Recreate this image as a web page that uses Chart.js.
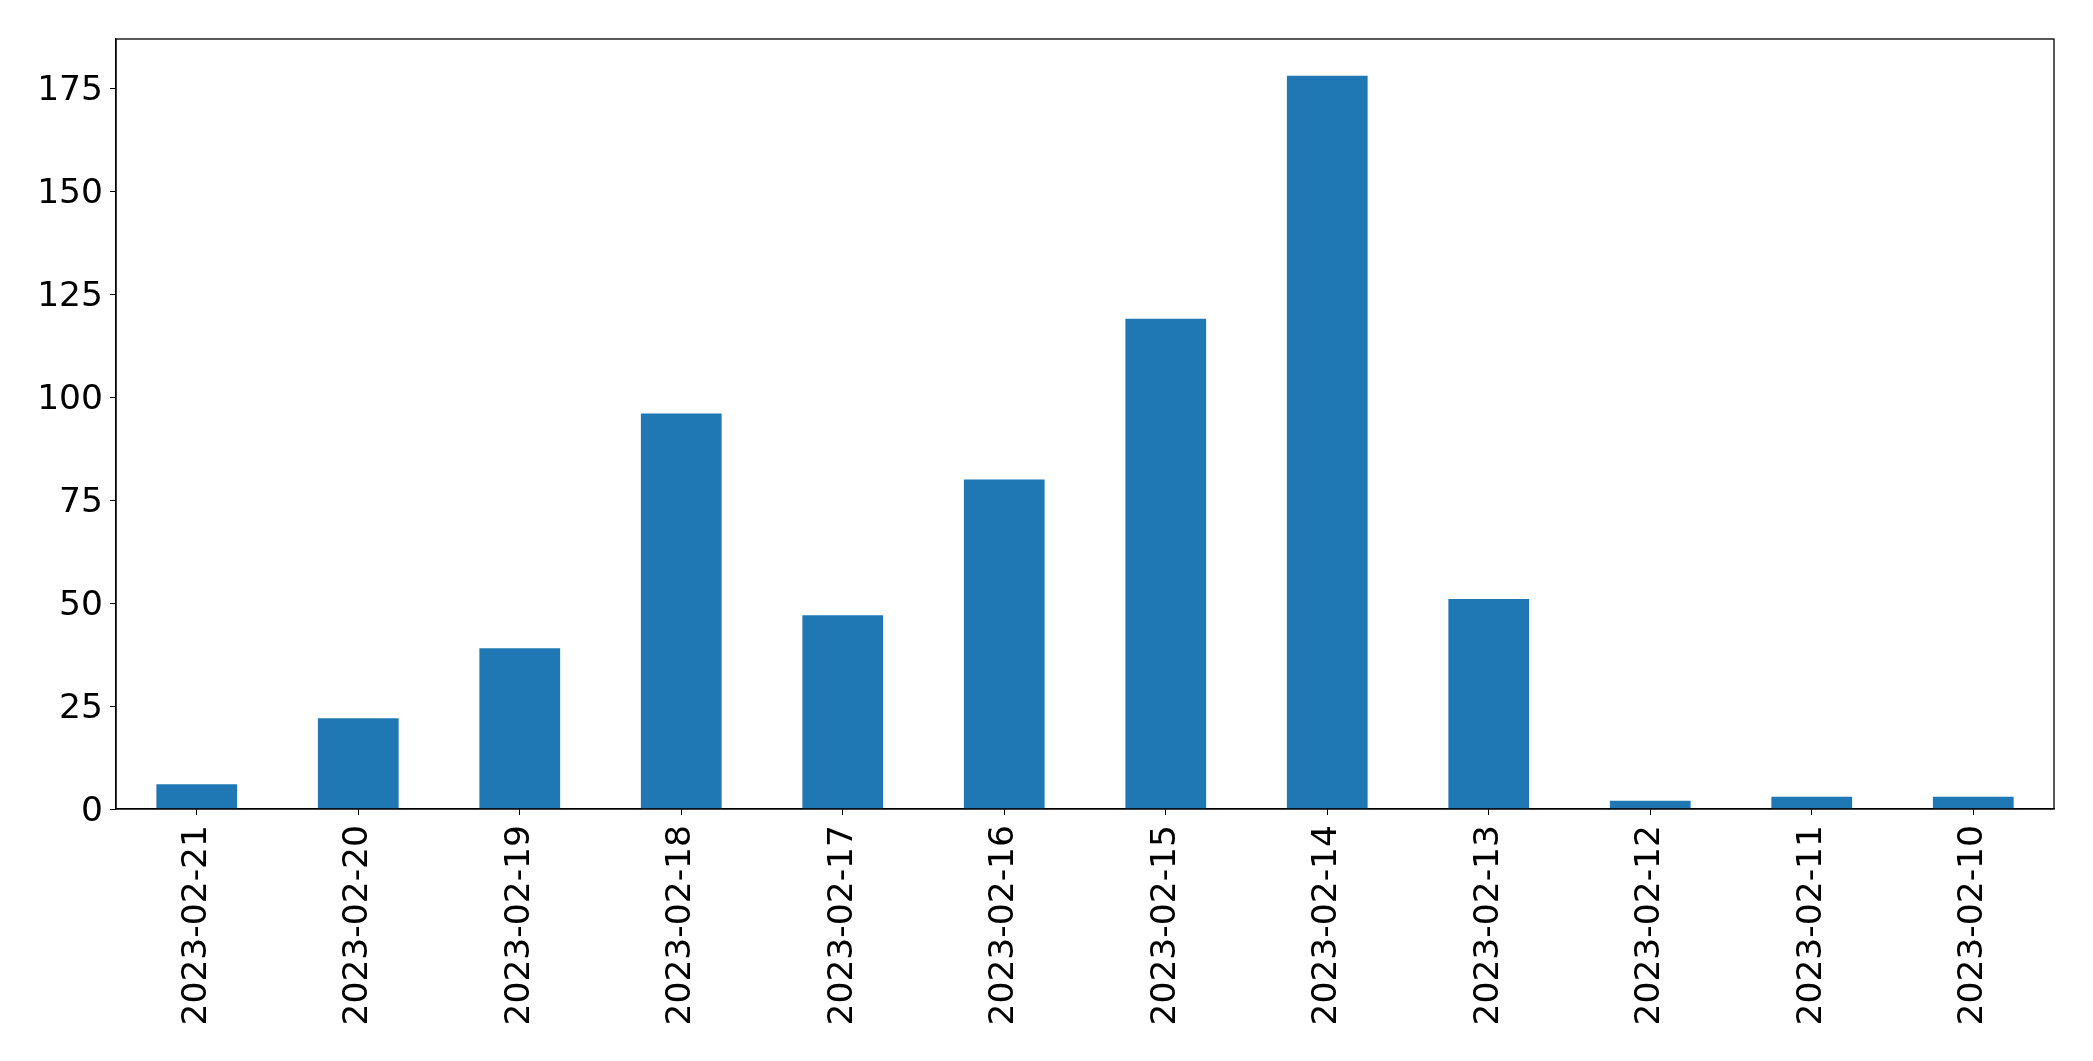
<!DOCTYPE html>
<html>
<head>
<meta charset="utf-8">
<script src="https://cdn.jsdelivr.net/npm/chart.js@4"></script>
<style>
html,body{margin:0;padding:0;background:#fff;}
#wrap{width:2093px;height:1061px;}
</style>
</head>
<body>
<div id="wrap"><canvas id="c" width="2093" height="1061"></canvas></div>
<script>
const categories = ["2023-02-21","2023-02-20","2023-02-19","2023-02-18","2023-02-17","2023-02-16","2023-02-15","2023-02-14","2023-02-13","2023-02-12","2023-02-11","2023-02-10"];
const counts = [6, 22, 39, 96, 47, 80, 119, 178, 51, 2, 3, 3];
const yTickStep = 25;

const yMax = Math.max(...counts) * 1.05;

const frame = {
  id: 'frame',
  afterDraw(chart) {
    const a = chart.chartArea, ctx = chart.ctx;
    ctx.save();
    ctx.strokeStyle = '#000';
    ctx.lineWidth = 1.3;
    ctx.strokeRect(a.left, a.top, a.right - a.left, a.bottom - a.top);
    ctx.restore();
  }
};

new Chart(document.getElementById('c'), {
  type: 'bar',
  data: {
    labels: categories,
    datasets: [{
      data: counts,
      backgroundColor: '#1f77b4',
      borderWidth: 0,
      barPercentage: 0.5,
      categoryPercentage: 1.0
    }]
  },
  options: {
    responsive: false,
    animation: false,
    devicePixelRatio: 1,
    layout: { padding: { top: 39, right: 39, left: 0, bottom: 0 } },
    plugins: { legend: { display: false }, tooltip: { enabled: false } },
    scales: {
      x: {
        offset: true,
        grid: { display: true, drawOnChartArea: false, drawTicks: true, tickLength: 6, color: '#000', offset: false },
        border: { display: true, color: '#000', width: 1.3 },
        ticks: {
          color: '#000',
          font: { family: 'DejaVu Sans', size: 34.5 },
          minRotation: 90, maxRotation: 90,
          padding: 10,
          autoSkip: false
        },
        afterFit(s) { s.height = 252; }
      },
      y: {
        min: 0,
        max: yMax,
        grid: { display: true, drawOnChartArea: false, drawTicks: true, tickLength: 6, color: '#000' },
        border: { display: true, color: '#000', width: 1.3 },
        ticks: {
          color: '#000',
          font: { family: 'DejaVu Sans', size: 34.5 },
          stepSize: yTickStep,
          padding: 7,
          labelOffset: 3
        },
        afterBuildTicks(s) { s.ticks = s.ticks.filter(t => Math.abs(t.value / yTickStep - Math.round(t.value / yTickStep)) < 1e-9); },
        afterFit(s) { s.width = 116; }
      }
    }
  },
  plugins: [frame]
});
</script>
</body>
</html>
